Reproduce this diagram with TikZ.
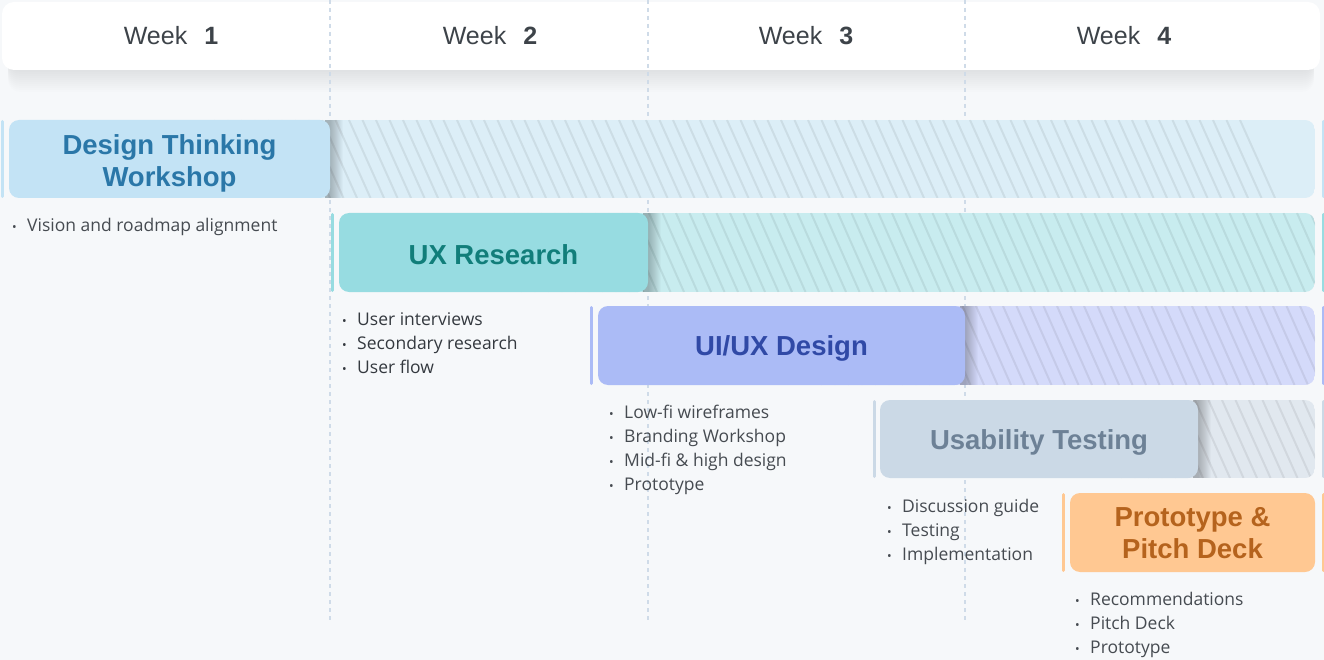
\documentclass[tikz,border=0pt]{standalone}
\usepackage{fontspec}
\usepackage{graphicx}
\setmainfont{Open Sans}
\newfontfamily\headfont{Liberation Sans}
\newfontfamily\itemfont{Open Sans}

\definecolor{pagebg}{HTML}{F6F8FA}
\definecolor{divblue}{HTML}{CFDBE8}
\definecolor{inkgrey}{HTML}{3D4349}
\definecolor{itemgrey}{HTML}{464B51}
\definecolor{itemdark}{HTML}{34393F}
\definecolor{dtwfill}{HTML}{C3E3F5}
\definecolor{dtwtext}{HTML}{2A77A8}
\definecolor{dtwhatch}{HTML}{DCEEF7}
\definecolor{uxrfill}{HTML}{97DCE1}
\definecolor{uxrtext}{HTML}{117E7A}
\definecolor{uxrhatch}{HTML}{C8ECEF}
\definecolor{uidfill}{HTML}{ABBBF6}
\definecolor{uidtext}{HTML}{3049A6}
\definecolor{uidhatch}{HTML}{D4DAFA}
\definecolor{ustfill}{HTML}{CBD9E6}
\definecolor{usttext}{HTML}{6D8196}
\definecolor{usthatch}{HTML}{E1E8EF}
\definecolor{ppdfill}{HTML}{FFC892}
\definecolor{ppdtext}{HTML}{B5631D}

\tikzset{
  weekhead/.style={font=\headfont\fontsize{25}{30}\selectfont, text=inkgrey, anchor=base, inner sep=0pt},
  phasebox/.style={rounded corners=10pt, inner sep=0pt},
  phasetitle/.style={inner sep=0pt, align=center, font=\headfont\bfseries\fontsize{27.5}{32}\selectfont},
  item/.style={font=\itemfont\fontsize{17.5}{24}\selectfont, text=itemgrey, anchor=base west, inner sep=0pt},
  divider/.style={draw=divblue, line width=1.5pt, dash pattern=on 4pt off 4pt},
  hatch/.style={draw=black, draw opacity=0.07, line width=2pt},
  softshade/.style={fill=black, opacity=0.018},
  accent/.style={line width=3pt, line cap=round}
}

% striped tail of a phase: x1, y1, x2, y2, fill colour, right edge of the solid box
\newcommand{\hatchbar}[6]{%
  \begin{scope}
    \clip[rounded corners=10pt] (#1,#2) rectangle (#3,#4);
    \fill[#5] (#1,#2) rectangle (#3,#4);
    \foreach \k in {0,...,80}
      \draw[hatch] ({#1-40+13.5*\k},#2) -- ++(35,{#4-#2});
    \foreach \k in {1,...,13}
      \fill[softshade] ({#6-5},#2) rectangle ({#6+\k},#4);
  \end{scope}}

\newcommand{\bul}{\makebox[15pt][l]{\scalebox{0.7}{•}}}

% bullet list under a phase: name, x, first baseline, items
\newcommand{\tasklist}[4]{%
  \foreach \t [count=\i] in {#4}
    \node[item] (#1-\i) at (#2,{#3+24*(\i-1)}) {\bul\t};}

\begin{document}
\begin{tikzpicture}[x=1pt, y=-1pt]
  %%%%% START %%%%%
  \useasboundingbox (0,0) rectangle (1324,660);
  \fill[pagebg] (0,0) rectangle (1324,660);

  % week header
  \foreach \k in {1,...,12}
    \fill[black, opacity=0.006, rounded corners=12pt] (8,40) rectangle (1314,{68+2*\k});
  \node[fill=white, rounded corners=12pt, minimum width=1318pt, minimum height=68pt] (head) at (661,36) {};

  \draw[divider] (330,0) -- (330,622);
  \draw[divider] (648,0) -- (648,622);
  \draw[divider] (965,0) -- (965,622);

  \node[weekhead] (wk1) at (171,45) {Week\hspace{17pt}\textbf{1}};
  \node[weekhead] (wk2) at (490,45) {Week\hspace{17pt}\textbf{2}};
  \node[weekhead] (wk3) at (806,45) {Week\hspace{17pt}\textbf{3}};
  \node[weekhead] (wk4) at (1124,45) {Week\hspace{17pt}\textbf{4}};

  % striped tails
  \hatchbar{200}{120}{1315}{198}{dtwhatch}{330}
  \hatchbar{500}{213}{1315}{292}{uxrhatch}{648}
  \hatchbar{800}{306}{1315}{385}{uidhatch}{965}
  \hatchbar{1100}{400}{1315}{478}{usthatch}{1198}

  % accents
  \draw[accent, dtwfill] (2.5,121.5) -- (2.5,196.5);
  \draw[accent, uxrfill] (332.5,214.5) -- (332.5,290.5);
  \draw[accent, uidfill] (591.5,307.5) -- (591.5,383.5);
  \draw[accent, ustfill] (874.5,401.5) -- (874.5,476.5);
  \draw[accent, ppdfill] (1063.5,494.5) -- (1063.5,570.5);
  \draw[accent, dtwfill] (1323,121.5) -- (1323,196.5);
  \draw[accent, uxrfill] (1323,214.5) -- (1323,290.5);
  \draw[accent, uidfill] (1323,307.5) -- (1323,383.5);
  \draw[accent, ustfill] (1323,401.5) -- (1323,476.5);
  \draw[accent, ppdfill] (1323,494.5) -- (1323,570.5);

  % phases
  \node[phasebox, fill=dtwfill, minimum width=321pt, minimum height=78pt] (dtw) at (169.5,159) {};
  \node[phasebox, fill=uxrfill, minimum width=309pt, minimum height=79pt] (uxr) at (493.5,252.5) {};
  \node[phasebox, fill=uidfill, minimum width=367pt, minimum height=79pt] (uid) at (781.5,345.5) {};
  \node[phasebox, fill=ustfill, minimum width=318pt, minimum height=78pt] (ust) at (1039,439) {};
  \node[phasebox, fill=ppdfill, minimum width=245pt, minimum height=79pt] (ppd) at (1192.5,532.5) {};

  \node[phasetitle, text=dtwtext] (dtw-t) at ([yshift=-4pt]dtw.center) {Design Thinking\\Workshop};
  \node[phasetitle, text=uxrtext] (uxr-t) at ([yshift=-2pt]uxr.center) {UX Research};
  \node[phasetitle, text=uidtext] (uid-t) at ([yshift=-3pt]uid.center) {UI/UX Design};
  \node[phasetitle, text=usttext] (ust-t) at ([yshift=-3pt]ust.center) {Usability Testing};
  \node[phasetitle, text=ppdtext] (ppd-t) at ([yshift=-1pt]ppd.center) {Prototype \&\\Pitch Deck};

  % tasks
  \tasklist{dtwl}{12}{232}{Vision and roadmap alignment}
  \begin{scope}[item/.append style={text=itemdark}]
    \tasklist{uxrl}{342}{325}{User interviews, Secondary research, User flow}
  \end{scope}
  \tasklist{uidl}{609}{418}{Low-fi wireframes, Branding Workshop, Mid-fi \& high design, Prototype}
  \tasklist{ustl}{887}{512}{Discussion guide, Testing, Implementation}
  \tasklist{ppdl}{1075}{605}{Recommendations, Pitch Deck, Prototype}

  %%%%% END %%%%%
\end{tikzpicture}
\end{document}
